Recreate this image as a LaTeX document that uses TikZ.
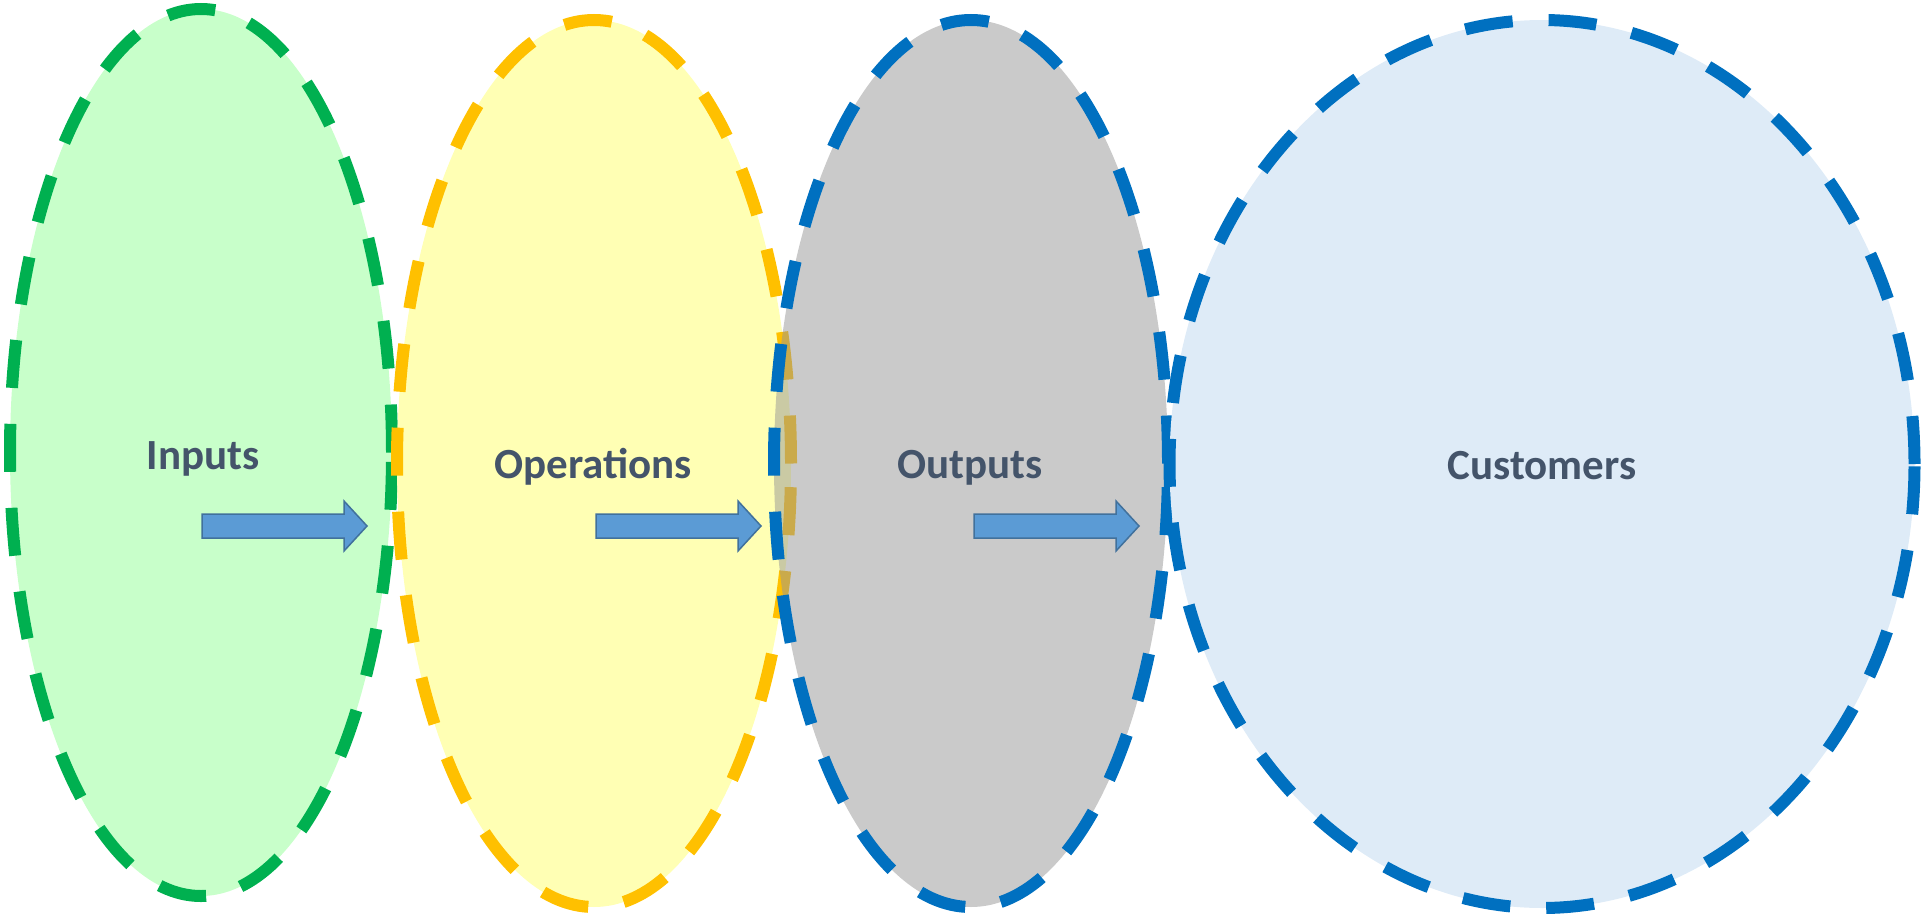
\documentclass[tikz,border=0pt]{standalone}
\usepackage{fontspec}
\setmainfont{Carlito}
\usetikzlibrary{shapes.geometric}
\definecolor{greenfill}{RGB}{200,255,202}
\definecolor{greenline}{RGB}{0,176,80}
\definecolor{yellowfill}{RGB}{255,255,180}
\definecolor{orangeline}{RGB}{255,192,0}
\definecolor{greyfill}{RGB}{150,150,150}
\definecolor{blueline}{RGB}{0,112,192}
\definecolor{custfill}{RGB}{222,235,247}
\definecolor{textcol}{RGB}{68,84,106}
\definecolor{arrowfill}{RGB}{91,155,213}
\definecolor{arrowline}{RGB}{65,113,156}
\tikzset{
  stage/.style={ellipse, inner sep=0pt, line width=12pt, dash pattern=on 48pt off 36pt},
  stagelabel/.style={anchor=base, inner sep=0pt, text=textcol, font=\fontsize{43}{51}\selectfont\bfseries},
  blockarrow/.pic={
    \path[fill=arrowfill, draw=arrowline, line width=1.5pt, line join=miter]
      (0,-12) -- (142,-12) -- (142,-25) -- (165,0) -- (142,25) -- (142,12) -- (0,12) -- cycle;
  }
}
\begin{document}
\begin{tikzpicture}[x=1pt, y=-1pt]
\useasboundingbox (0,0) rectangle (1921,918);
% stages
\node[stage, fill=greenfill, draw=greenline, minimum width=382pt, minimum height=887pt] (inputs) at (201,452.5) {};
\node[stage, fill=yellowfill, draw=orangeline, minimum width=394pt, minimum height=887pt] (operations) at (594,463.5) {};
\node[stage, fill=greyfill, fill opacity=0.5, draw=blueline, minimum width=394pt, minimum height=887pt] (outputs) at (971,463.5) {};
\node[stage, fill=custfill, draw=blueline, minimum width=745pt, minimum height=888pt] (customers) at (1542,464) {};
% labels
\node[stagelabel] (tinputs) at (203,469) {Inputs};
\node[stagelabel] (toperations) at (593,478) {Operations};
\node[stagelabel] (toutputs) at (970,478) {Outputs};
\node[stagelabel] (tcustomers) at (1542,479) {Customers};
% block arrows
\pic at (202,526) {blockarrow};
\pic at (596,526) {blockarrow};
\pic at (974,526) {blockarrow};
\end{tikzpicture}
\end{document}
